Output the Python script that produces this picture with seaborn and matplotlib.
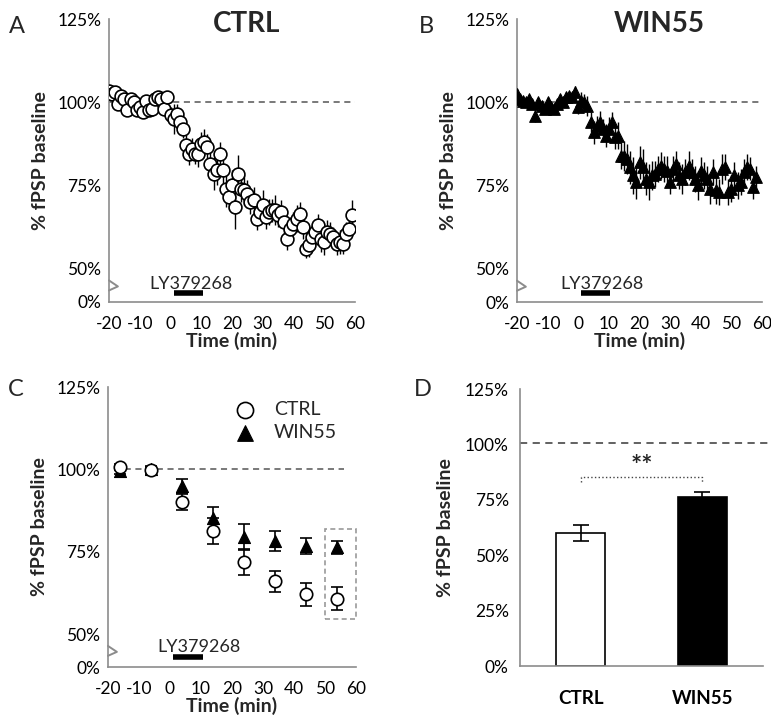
import numpy as np
import pandas as pd
import matplotlib
matplotlib.use("Agg")
import matplotlib.pyplot as plt
import matplotlib.transforms as mtransforms
import seaborn as sns

# --- data ---
# panel A: control slices, one point per minute
ctrl_time = np.arange(-20, 60)
ctrl_mean = [103.5, 102.5, 103, 99.5, 102, 101, 97.5, 101, 100, 97.5,
             98.5, 97, 100.5, 97.5, 98, 101, 101.5, 101, 98, 101.5,
             96, 95, 96.5, 94, 92, 87, 84.5, 86, 84.5, 84.5,
             87.5, 88, 86.5, 81.5, 78.5, 79.5, 84.5, 79.5, 74, 71.5,
             75, 68.5, 78.5, 74, 73.5, 72.5, 70, 70.5, 65, 67,
             69, 65.5, 67, 67.5, 67.5, 66, 67, 64, 59, 62,
             63.5, 65, 66.5, 62.5, 56, 57, 59.5, 61, 63, 59,
             58, 61, 60.5, 59.5, 57.5, 58, 57.5, 60.5, 62, 66]
ctrl_sem = [1.2, 1.5, 1.2, 1.5, 1.3, 1.8, 1.6, 1.4, 1.7, 1.5,
            1.6, 1.4, 1.8, 1.5, 1.6, 1.7, 1.5, 1.8, 2.0, 1.8,
            2.5, 4.5, 3.0, 2.5, 2.8, 3.0, 3.5, 3.2, 3.0, 4.0,
            3.5, 3.8, 4.0, 4.5, 5.0, 4.5, 3.5, 4.0, 5.5, 4.0,
            4.5, 6.5, 5.5, 4.0, 4.5, 4.0, 3.5, 4.0, 3.5, 3.5,
            4.5, 3.5, 4.0, 3.5, 4.5, 3.5, 3.5, 4.0, 3.5, 3.5,
            3.5, 4.0, 3.5, 3.5, 3.0, 3.5, 3.5, 4.0, 3.5, 4.0,
            4.0, 3.5, 3.5, 3.0, 3.5, 3.5, 3.0, 3.5, 3.5, 4.5]

# panel B: WIN55 slices
win_time = np.arange(-20, 59)
win_mean = [102.5, 101, 100.5, 100, 101, 99.5, 96, 100, 99, 98,
            100, 98.5, 98, 99.5, 101, 100, 101.5, 102, 101.5, 103,
            98.5, 100.5, 100, 99, 94, 91, 93, 94, 92, 90,
            92, 94, 89.5, 90, 84, 84, 83, 80.5, 78, 76,
            82, 80.5, 77, 76, 78, 78.5, 80, 81, 80, 79.5,
            76, 80, 81.5, 78, 77, 79, 81, 79, 77, 75,
            79.5, 78, 77, 74, 79, 73.5, 73, 80, 80.5, 73,
            74, 78, 75, 76, 79, 80.5, 80, 74.5, 77.5]
win_sem = [1.5, 1.2, 1.3, 1.4, 1.2, 1.5, 1.8, 1.4, 1.5, 1.6,
           1.5, 1.4, 1.6, 1.5, 1.5, 1.4, 1.6, 1.5, 1.7, 1.8,
           2.0, 2.5, 2.5, 3.0, 3.0, 3.5, 3.0, 3.5, 3.0, 3.5,
           3.5, 3.0, 3.5, 4.0, 4.0, 4.5, 4.5, 5.0, 5.5, 5.0,
           5.0, 5.5, 5.0, 5.5, 4.5, 4.0, 4.0, 4.0, 4.0, 4.5,
           3.5, 4.0, 4.0, 4.0, 4.5, 4.0, 4.5, 4.0, 4.0, 4.5,
           4.0, 4.0, 4.0, 4.5, 4.0, 4.0, 4.0, 4.5, 4.0, 4.0,
           4.0, 4.0, 4.0, 4.0, 4.0, 4.0, 3.5, 3.5, 3.5]

# panel C: 10-min averages
bin_time = [-16, -6, 4, 14, 24, 34, 44, 54]
ctrl_bin = [100.7, 99.7, 90.1, 81.2, 71.8, 66.0, 62.1, 60.8]
ctrl_bin_err = [1.0, 1.2, 2.5, 4.0, 4.0, 3.2, 3.5, 3.5]
win_bin = [99.5, 100.0, 95.0, 85.1, 79.5, 78.2, 76.7, 76.4]
win_bin_err = [0.8, 0.8, 2.2, 3.5, 4.0, 3.0, 2.5, 2.0]

# panel D: last 10 min
groups = ["CTRL", "WIN55"]
final_mean = [60.0, 76.5]
final_err = [3.6, 2.0]

# the time-course panels use a broken y axis: 0% is drawn just below 50%
ZERO = 40.0
grey = "#8c8c8c"

sns.set_theme(style="white")
plt.rcParams["font.family"] = ["Lato", "DejaVu Sans"]
plt.rcParams["font.size"] = 12
plt.rcParams["axes.unicode_minus"] = False

fig = plt.figure(figsize=(7.71, 7.15), dpi=100)
axA = fig.add_axes([0.1414, 0.578, 0.319, 0.3954])
axB = fig.add_axes([0.6706, 0.5776, 0.3178, 0.3958])
axC = fig.add_axes([0.140, 0.0671, 0.3217, 0.3916])
axD = fig.add_axes([0.6744, 0.0685, 0.3152, 0.3874])


def style_axes(ax):
    for s in ["top", "right"]:
        ax.spines[s].set_visible(False)
    for s in ["left", "bottom"]:
        ax.spines[s].set_color(grey)
        ax.spines[s].set_linewidth(1.2)
    ax.tick_params(axis="both", direction="out", length=4, width=1.2,
                   color=grey, labelsize=12.5, labelcolor="black", pad=4)


def time_axes(ax, text_x, text_y=45.3, bar_y=42.6):
    style_axes(ax)
    ax.set_xlim(-20, 60)
    ax.set_ylim(ZERO, 125)
    ax.set_xticks(range(-20, 61, 10))
    ax.set_yticks([ZERO, 50, 75, 100, 125])
    ax.set_yticklabels(["0%", "50%", "75%", "100%", "125%"])
    ax.tick_params(axis="x", pad=6)
    ax.tick_params(axis="y", direction="inout", length=7, pad=2)
    ax.set_xlabel("Time (min)", fontsize=14, fontweight="bold", labelpad=0)
    ax.set_ylabel("% fPSP baseline", fontsize=14, fontweight="bold", labelpad=6)
    # break mark on the y axis
    tr = mtransforms.blended_transform_factory(ax.transAxes, ax.transData)
    ax.plot([0, 0.036, 0], [46.4, 44.6, 43.4], color=grey, lw=1.4,
            transform=tr, clip_on=False, zorder=5)
    # drug application
    ax.plot([1, 10.5], [bar_y, bar_y], color="black", lw=4,
            solid_capstyle="butt", zorder=4)
    ax.text(text_x, text_y, "LY379268", ha="center", va="center", fontsize=13)


# panel A
time_axes(axA, 6.6)
axA.plot([-20, 60], [100, 100], ls=(0, (4, 3)), color="#555555", lw=1.1, zorder=1)
axA.errorbar(ctrl_time, ctrl_mean, yerr=ctrl_sem, fmt="none",
             ecolor="black", elinewidth=1, zorder=2)
sns.scatterplot(x=ctrl_time, y=ctrl_mean, ax=axA, marker="o", s=85,
                color="white", edgecolor="black", linewidth=1.2, zorder=3)

# panel B
time_axes(axB, 7.7)
axB.plot([-20, 60], [100, 100], ls=(0, (4, 3)), color="#555555", lw=1.1, zorder=1)
axB.errorbar(win_time, win_mean, yerr=win_sem, fmt="none",
             ecolor="black", elinewidth=1, zorder=2)
sns.scatterplot(x=win_time, y=win_mean, ax=axB, marker="^", s=70,
                color="black", edgecolor="black", linewidth=0.8, zorder=3)

# panel C
time_axes(axC, 9.4, text_y=46.0, bar_y=43.1)
axC.plot([-18, 56], [100, 100], ls=(0, (4, 3)), color="#555555", lw=1.1, zorder=1)
axC.errorbar(bin_time, win_bin, yerr=win_bin_err, fmt="none", ecolor="black",
             elinewidth=1.2, capsize=4, capthick=1.2, zorder=2)
axC.errorbar(bin_time, ctrl_bin, yerr=ctrl_bin_err, fmt="none", ecolor="black",
             elinewidth=1.2, capsize=4, capthick=1.2, zorder=2)
sns.scatterplot(x=bin_time, y=win_bin, ax=axC, marker="^", s=75, color="black",
                edgecolor="black", linewidth=0.8, zorder=3, label="WIN55")
sns.scatterplot(x=bin_time, y=ctrl_bin, ax=axC, marker="o", s=80, color="white",
                edgecolor="black", linewidth=1.2, zorder=4, label="CTRL")
h, l = axC.get_legend_handles_labels()
axC.legend(h[::-1], l[::-1], loc="upper right", bbox_to_anchor=(0.97, 0.99),
           frameon=False, fontsize=14, markerscale=1.3, handletextpad=0.5,
           labelspacing=0.3, borderaxespad=0.2)
# dashed box around the last bin
axC.add_patch(plt.Rectangle((50, 54.6), 10, 27.4, fill=False, ls=(0, (3, 2)),
                            ec="#999999", lw=1.2, clip_on=False, zorder=1))

# panel D
style_axes(axD)
bar_df = pd.DataFrame({"group": groups, "value": final_mean})
sns.barplot(data=bar_df, x="group", y="value", ax=axD, width=0.4,
            palette=["white", "black"], hue="group", legend=False,
            edgecolor="black", linewidth=1.2, errorbar=None)
axD.errorbar(range(len(groups)), final_mean, yerr=final_err, fmt="none",
             ecolor="black", elinewidth=1.2, capsize=6, capthick=1.2)
axD.set_xlim(-0.5, 1.5)
axD.set_ylim(0, 125)
axD.set_yticks([0, 25, 50, 75, 100, 125])
axD.set_yticklabels(["0%", "25%", "50%", "75%", "100%", "125%"])
axD.set_xticks([0, 1])
axD.set_xticklabels(groups, fontsize=13.5, fontweight="bold")
axD.set_xticks([-0.5, 0.5, 1.5], minor=True)
axD.tick_params(axis="x", which="major", length=0, pad=17)
axD.tick_params(axis="x", which="minor", length=5, width=1.2, color=grey)
axD.set_xlabel("")
axD.set_ylabel("% fPSP baseline", fontsize=14, fontweight="bold", labelpad=8)
axD.plot([-0.5, 1.55], [100.5, 100.5], ls=(0, (4, 3)), color="#555555",
         lw=1.3, clip_on=False)
axD.plot([0, 0, 1, 1], [83, 85.4, 85.4, 83], ls=":", color="#444444", lw=1)
axD.text(0.5, 85.0, "**", ha="center", va="bottom", fontsize=19, fontweight="bold")

# panel titles sit inside the top of the axes area
fig.text(0.320, 0.966, "CTRL", fontsize=20, fontweight="bold", ha="center", va="center")
fig.text(0.855, 0.966, "WIN55", fontsize=20, fontweight="bold", ha="center", va="center")

# panel letters
for letter, x, y in [("A", 0.012, 0.963), ("B", 0.543, 0.963),
                     ("C", 0.010, 0.455), ("D", 0.537, 0.455)]:
    fig.text(x, y, letter, fontsize=17, ha="left", va="center")

fig.savefig("out.png", dpi=100)
